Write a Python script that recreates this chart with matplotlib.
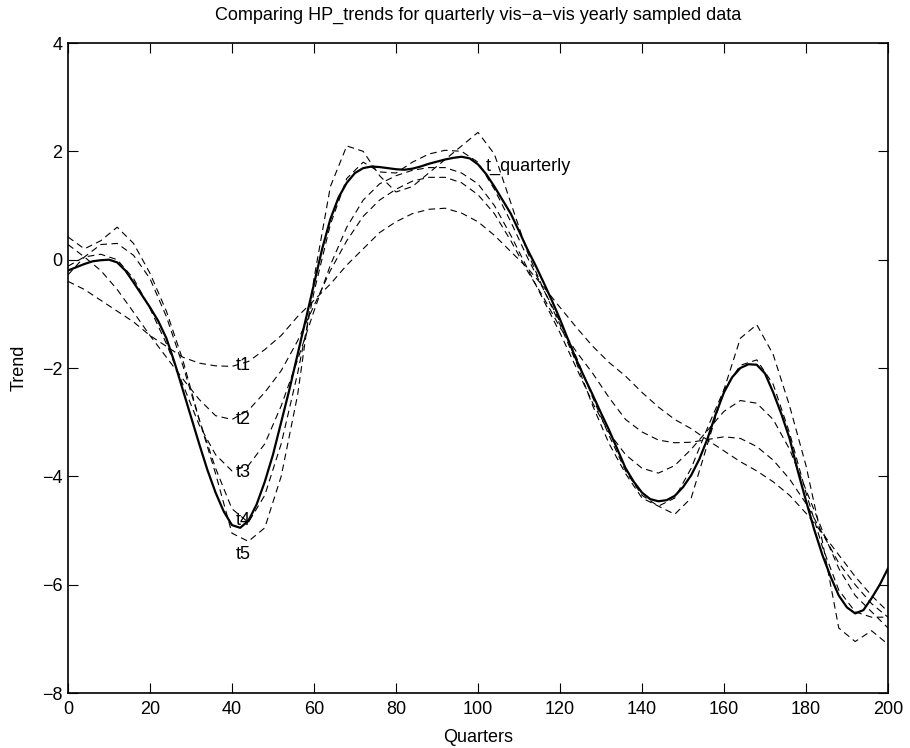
import numpy as np
import matplotlib.pyplot as plt

plt.rcParams['font.family'] = ['Liberation Sans', 'DejaVu Sans']

q_fine = np.arange(0, 201, 2)
t_quarterly = [-0.2, -0.14, -0.08, -0.03, -0.01, 0.0, -0.05, -0.2, -0.42, -0.65,
               -0.88, -1.13, -1.45, -1.9, -2.4, -2.9, -3.4, -3.88, -4.3, -4.65,
               -4.9, -4.95, -4.82, -4.52, -4.1, -3.6, -3.0, -2.4, -1.75, -1.1,
               -0.45, 0.2, 0.75, 1.15, 1.42, 1.6, 1.69, 1.72, 1.71, 1.69,
               1.67, 1.66, 1.68, 1.72, 1.77, 1.81, 1.85, 1.88, 1.9, 1.87,
               1.76, 1.58, 1.35, 1.1, 0.85, 0.53, 0.2, -0.1, -0.42, -0.75,
               -1.1, -1.48, -1.85, -2.18, -2.5, -2.83, -3.15, -3.5, -3.85, -4.1,
               -4.3, -4.42, -4.46, -4.44, -4.36, -4.2, -3.98, -3.68, -3.3, -2.85,
               -2.45, -2.17, -2.0, -1.93, -1.94, -2.1, -2.45, -2.85, -3.3, -3.9,
               -4.45, -4.98, -5.45, -5.85, -6.2, -6.42, -6.53, -6.47, -6.25, -6.0,
               -5.7]

# yearly sampled trends read off every 4 quarters, t1 smoothest ... t5 roughest
quarters = np.arange(0, 201, 4)
t1 = [-0.4, -0.55, -0.75, -0.95, -1.15, -1.4, -1.6, -1.8, -1.91, -1.96,
      -1.97, -1.88, -1.66, -1.4, -1.05, -0.75, -0.45, -0.1, 0.2, 0.5,
      0.7, 0.85, 0.93, 0.95, 0.86, 0.7, 0.45, 0.15, -0.15, -0.5,
      -0.88, -1.25, -1.6, -1.9, -2.15, -2.45, -2.72, -2.95, -3.12, -3.33,
      -3.53, -3.73, -3.9, -4.1, -4.35, -4.68, -5.05, -5.45, -5.85, -6.2,
      -6.5]
t2 = [0.28, 0.05, -0.2, -0.55, -0.97, -1.4, -1.8, -2.2, -2.58, -2.88,
      -2.95, -2.78, -2.45, -2.05, -1.5, -0.85, -0.2, 0.35, 0.8, 1.1,
      1.3, 1.45, 1.52, 1.52, 1.42, 1.2, 0.85, 0.35, -0.2, -0.7,
      -1.25, -1.7, -2.1, -2.55, -2.95, -3.18, -3.33, -3.38, -3.37, -3.32,
      -3.27, -3.3, -3.45, -3.7, -4.05, -4.5, -5.05, -5.6, -6.0, -6.35,
      -6.6]
t3 = [-0.12, 0.05, 0.1, 0.0, -0.35, -0.9, -1.55, -2.3, -3.05, -3.6,
      -3.9, -3.8, -3.4, -2.7, -1.85, -0.95, -0.1, 0.6, 1.1, 1.4,
      1.55, 1.65, 1.7, 1.7, 1.6, 1.4, 1.0, 0.45, -0.15, -0.75,
      -1.35, -2.0, -2.65, -3.2, -3.6, -3.85, -3.94, -3.8, -3.5, -3.15,
      -2.8, -2.6, -2.65, -2.95, -3.5, -4.25, -5.0, -5.7, -6.2, -6.5,
      -6.8]
t4 = [-0.28, 0.05, 0.28, 0.3, 0.08, -0.35, -1.05, -1.95, -2.95, -3.85,
      -4.6, -4.85, -4.35, -3.4, -2.1, -0.6, 0.65, 1.5, 1.8, 1.62,
      1.6, 1.8, 1.95, 2.02, 2.0, 1.8, 1.3, 0.7, 0.05, -0.55,
      -1.15, -1.8, -2.55, -3.25, -3.9, -4.35, -4.55, -4.4, -3.85, -3.1,
      -2.4, -1.95, -1.85, -2.3, -3.2, -4.3, -5.3, -6.1, -6.5, -6.6,
      -6.6]
t5 = [0.42, 0.2, 0.35, 0.6, 0.3, -0.25, -0.95, -1.85, -2.95, -3.95,
      -5.05, -5.2, -4.95, -4.0, -2.5, -0.35, 1.35, 2.1, 2.0, 1.55,
      1.25, 1.35, 1.6, 1.85, 2.1, 2.35, 1.95, 1.05, 0.15, -0.55,
      -1.2, -1.9, -2.7, -3.4, -3.95, -4.4, -4.55, -4.7, -4.4, -3.4,
      -2.4, -1.45, -1.2, -1.75, -2.7, -3.8, -5.2, -6.8, -7.05, -6.85,
      -7.1]

yearly = [t1, t2, t3, t4, t5]
names = ['t1', 't2', 't3', 't4', 't5']
label_x = 41
label_y = [-1.95, -2.95, -3.93, -4.82, -5.45]

fig = plt.figure(figsize=(9.1, 7.48), dpi=100)
ax = fig.add_axes([0.0747, 0.0735, 0.9011, 0.869])

for t in yearly:
    ax.plot(quarters, t, color='k', linewidth=0.8, linestyle=(0, (6, 4)))
ax.plot(q_fine, t_quarterly, color='k', linewidth=1.6)

# labels next to the curves
for name, yv in zip(names, label_y):
    ax.text(label_x, yv, name, fontsize=13, va='center', ha='left')
ax.text(102, 1.72, 't_quarterly', fontsize=13, va='center', ha='left')

ax.set_xlim(0, 200)
ax.set_ylim(-8, 4)
ax.set_xticks(np.arange(0, 201, 20))
ax.set_yticks(np.arange(-8, 5, 2))
ax.tick_params(direction='in', length=7, width=0.8, top=True, right=True,
               labelsize=13)
ax.tick_params(axis='x', pad=6)
ax.tick_params(axis='y', pad=4)
ax.set_yticklabels([f'{v}'.replace('-', '\u2212') for v in np.arange(-8, 5, 2)])
for s in ax.spines.values():
    s.set_linewidth(1.2)

ax.set_title('Comparing HP_trends for quarterly vis\u2212a\u2212vis yearly sampled data',
             fontsize=13, pad=17)
ax.set_xlabel('Quarters', fontsize=13, labelpad=8)
ax.set_ylabel('Trend', fontsize=13, labelpad=10)

fig.savefig('out.png', dpi=100)
